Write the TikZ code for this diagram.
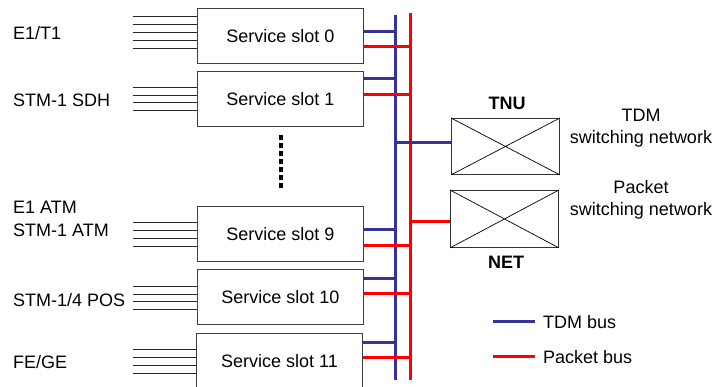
\documentclass[tikz,border=0pt]{standalone}
\usepackage{fontspec}
\setmainfont{Liberation Sans}
\definecolor{tdmblue}{RGB}{51,51,153}
\definecolor{pktred}{RGB}{255,0,0}

\begin{document}
\begin{tikzpicture}[x=1pt,y=-1pt,font=\fontsize{18}{22}\selectfont,
  slotbox/.style={draw=black!75,line width=0.9pt,minimum width=166pt,minimum height=55pt,anchor=north west,inner sep=0pt},
  swbox/.style={draw=black!80,line width=0.9pt,minimum width=108pt,anchor=north west,inner sep=0pt},
  txt/.style={inner sep=0pt,anchor=base west},
  feed/.style={black!85,line width=0.8pt},
  tdm/.style={tdmblue,line width=3pt},
  pkt/.style={pktred,line width=3pt}]
\useasboundingbox (0,0) rectangle (717,387);

% service slots
\node[slotbox] (slot0) at (197,8) {Service slot 0};
\node[slotbox] (slot1) at (197,71) {Service slot 1};
\node[slotbox] (slot9) at (197,206) {Service slot 9};
\node[slotbox] (slot10) at (197,269) {Service slot 10};
\node[slotbox,minimum height=56pt] (slot11) at (196,333) {Service slot 11};

% interfaces
\node[txt] (e1t1) at (13,40) {E1/T1};
\node[txt] (sdh) at (13,107) {STM-1 SDH};
\node[txt] (e1atm) at (13,214) {E1 ATM};
\node[txt] (stmatm) at (13,237) {STM-1 ATM};
\node[txt] (pos) at (13,306) {STM-1/4 POS};
\node[txt] (fege) at (13,368) {FE/GE};

\foreach \s/\ys in {slot0/{16,24,32,40,48},slot1/{87,95,102,110},slot9/{222,230,238,246},
                    slot10/{286,294,301,309},slot11/{349,357,365,373}}
  \foreach \y in \ys
    \draw[feed] (133,\y) -- (\s.west |- 0,\y);

% slots 2 to 8
\foreach \y in {135,143,...,183}
  \fill (278.5,\y) rectangle ++(4.7,4.7);

% switching networks
\node[swbox,minimum height=56pt] (tnu) at (451,118) {};
\node[swbox,minimum height=57pt] (net) at (450,190) {};
\draw[line width=0.7pt] (tnu.north west) -- (tnu.south east) (tnu.north east) -- (tnu.south west);
\draw[line width=0.7pt] (net.north west) -- (net.south east) (net.north east) -- (net.south west);
\node[font=\fontsize{18}{22}\selectfont\bfseries,inner sep=0pt,anchor=base] (tnulbl) at (507,110) {TNU};
\node[font=\fontsize{18}{22}\selectfont\bfseries,inner sep=0pt,anchor=base] (netlbl) at (506,269) {NET};
\node[inner sep=0pt,anchor=base,align=center] (tdmsw) at (641,144) {TDM\\switching network};
\node[inner sep=0pt,anchor=base,align=center] (pktsw) at (641,216) {Packet\\switching network};

% buses
\coordinate (tdmtop) at (395,15);
\coordinate (tdmbot) at (395,380);
\coordinate (pkttop) at (410,13);
\coordinate (pktbot) at (410,380);
\draw[tdm] (tdmtop) -- (tdmbot);
\draw[pkt] (pkttop) -- (pktbot);
\foreach \s/\b/\r in {slot0/32/47,slot1/79/95,slot9/230/246,slot10/278/293,slot11/342/357} {
  \draw[tdm] (\s.east |- 0,\b) -- (tdmtop |- 0,\b);
  \draw[pkt] (\s.east |- 0,\r) -- (pkttop |- 0,\r);
}
\draw[tdm] (tdmtop |- 0,143) -- (tnu.west |- 0,143);
\draw[pkt] (pkttop |- 0,222) -- (net.west |- 0,222);

% legend
\node[txt] (tdmkey) at (543,328) {TDM bus};
\node[txt] (pktkey) at (543,363) {Packet bus};
\draw[tdm] ([xshift=-50pt]tdmkey.west) -- ([xshift=-8pt]tdmkey.west);
\draw[pkt] ([xshift=-50pt]pktkey.west) -- ([xshift=-8pt]pktkey.west);
\end{tikzpicture}
\end{document}
